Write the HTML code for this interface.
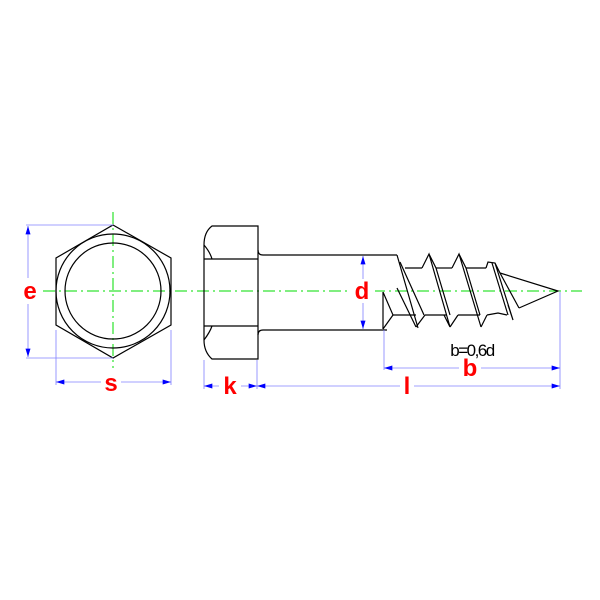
<!DOCTYPE html>
<html><head><style>html,body{margin:0;background:#fff}svg{display:block}</style></head>
<body>
<svg width="600" height="600" viewBox="0 0 600 600" xmlns="http://www.w3.org/2000/svg">
<defs>
<marker id="a" viewBox="0 0 10 6" refX="10" refY="3" markerWidth="14" markerHeight="5" orient="auto-start-reverse" markerUnits="userSpaceOnUse"><path d="M0,0L10,3L0,6z" fill="#0000ff"/></marker>
</defs>
<g stroke="#00dd00" stroke-width="1" stroke-dasharray="12,4,2,4" fill="none">
<line x1="43" y1="291" x2="582" y2="291"/>
<line x1="113" y1="212" x2="113" y2="368"/>
</g>
<g stroke="#000" stroke-width="1.2" fill="none">
<polygon points="113,225 171,258 171,325 113,358 56,325 56,258"/>
<circle cx="113" cy="291" r="57"/>
<circle cx="113" cy="291" r="48"/>
<path d="M212,226 L258,226 L258,359 L212,359 Q204,352 204,340 L204,245 Q204,232 212,226Z"/>
<line x1="204" y1="259" x2="258" y2="259"/>
<line x1="204" y1="326" x2="258" y2="326"/>
<path d="M204,245 Q210,252 212,259"/><path d="M204,340 Q210,332 212,326"/>
<path d="M258,250 Q258,255 263,255 L397,255"/>
<path d="M258,335 Q258,330 263,330 L387,330"/>
<path d="M383,292 L383,329 M383,292 L393,315 L383,329"/>
<line x1="393" y1="315" x2="416" y2="315"/>
<line x1="397" y1="255" x2="418" y2="328"/>
<line x1="400" y1="262" x2="424" y2="315"/>
<line x1="397" y1="288" x2="416" y2="327"/>
<line x1="405" y1="268" x2="422" y2="268"/>
<path d="M422,268 L429,254 L450,327 L444,315 M429,254 L436,268 L450,315"/>
<line x1="416" y1="327" x2="425" y2="315"/>
<line x1="425" y1="315" x2="447" y2="315"/>
<line x1="436" y1="268" x2="452" y2="268"/>
<path d="M452,268 L459,254 L481,327 M459,254 L466,268 L480,315"/>
<line x1="450" y1="327" x2="458" y2="315"/>
<line x1="458" y1="315" x2="480" y2="315"/>
<line x1="466" y1="268" x2="486" y2="268"/>
<path d="M486,268 L488,262 L495,263 L513,320 L508,305 M495,263 L500,273 L519,308"/>
<line x1="481" y1="327" x2="487" y2="315"/>
<path d="M487,315 L498,313 L507,315"/>
<line x1="492" y1="263" x2="508" y2="315"/>
<path d="M500,273 L558,291 L519,308"/>
</g>
<g stroke="#8080ff" stroke-width="0.8" fill="none">
<line x1="26" y1="225" x2="113" y2="225"/>
<line x1="26" y1="358" x2="113" y2="358"/>
<line x1="56" y1="330" x2="56" y2="385"/>
<line x1="171" y1="330" x2="171" y2="385"/>
<line x1="204" y1="360" x2="204" y2="389"/>
<line x1="257" y1="360" x2="257" y2="389"/>
<line x1="384" y1="330" x2="384" y2="370"/>
<line x1="560" y1="292" x2="560" y2="389"/>
</g>
<g stroke="#8080ff" stroke-width="0.8">
<line x1="28" y1="226" x2="28" y2="357" marker-start="url(#a)" marker-end="url(#a)"/>
<line x1="363" y1="256" x2="363" y2="329" marker-start="url(#a)" marker-end="url(#a)"/>
<line x1="56" y1="382" x2="171" y2="382" marker-start="url(#a)" marker-end="url(#a)"/>
<line x1="204" y1="386" x2="257" y2="386" marker-start="url(#a)" marker-end="url(#a)"/>
<line x1="257" y1="386" x2="560" y2="386" marker-start="url(#a)" marker-end="url(#a)"/>
<line x1="384" y1="368" x2="560" y2="368" marker-start="url(#a)" marker-end="url(#a)"/>
</g>
<g font-family="Liberation Sans, sans-serif" font-weight="bold" font-size="24" fill="#ff0000" text-anchor="middle">
<rect x="19" y="278" width="22" height="26" fill="#fff"/>
<text x="30" y="299">e</text>
<rect x="101" y="370" width="20" height="24" fill="#fff"/>
<text x="111" y="391">s</text>
<rect x="219" y="374" width="22" height="24" fill="#fff"/>
<text x="230" y="394">k</text>
<rect x="400" y="374" width="14" height="24" fill="#fff"/>
<text x="407" y="394">l</text>
<rect x="459" y="356" width="22" height="24" fill="#fff"/>
<text x="470" y="376">b</text>
<rect x="351" y="279" width="24" height="24" fill="#fff"/>
<text x="362" y="299">d</text>
</g>
<text x="472" y="356" font-family="Liberation Sans, sans-serif" font-size="17" fill="#000" text-anchor="middle" letter-spacing="-1.5">b=0,6d</text>
</svg>
</body></html>
